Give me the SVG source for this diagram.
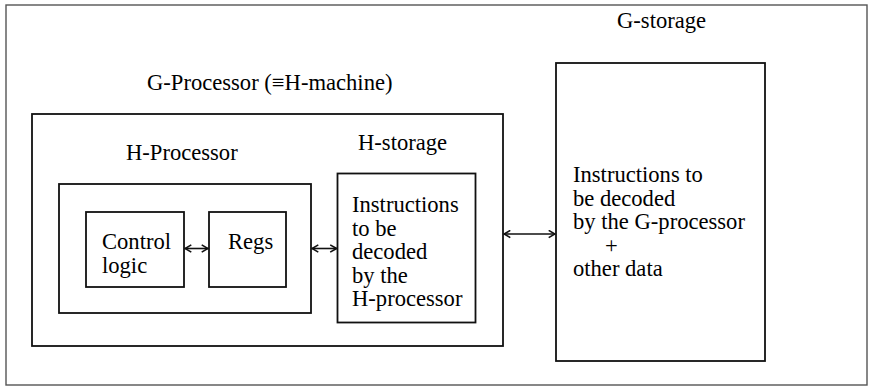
<svg xmlns="http://www.w3.org/2000/svg" width="869" height="387" viewBox="0 0 869 387">
<style>
  .box { fill: none; stroke: #111; stroke-width: 1.8; }
  .frame { fill: none; stroke: #555; stroke-width: 1.4; }
  .conn { fill: none; stroke: #111; stroke-width: 1.6; }
  .t { font-family: 'Liberation Serif', 'Times New Roman', 'DejaVu Serif', serif; font-size: 22.6px; fill: #000; }
</style>
<defs>
  <marker id="ah" viewBox="0 0 10 10" refX="9" refY="5" markerWidth="9" markerHeight="9" orient="auto-start-reverse" markerUnits="userSpaceOnUse">
    <path d="M2,1 L9,5 L2,9" fill="none" stroke="#111" stroke-width="1.8"/>
  </marker>
</defs>
<rect width="869" height="387" fill="#fff"/>
<rect class="frame" x="6" y="5" width="861" height="380"/>

<g id="g-storage" class="t">
  <text x="617" y="28">G-storage</text>
  <rect class="box" x="556" y="63" width="209" height="298"/>
  <text x="573" y="182">Instructions to</text>
  <text x="573" y="205.5">be decoded</text>
  <text x="573" y="229">by the G-processor</text>
  <text x="605" y="252.5">+</text>
  <text x="573" y="276">other data</text>
</g>

<g id="g-processor" class="t">
  <text x="147" y="90">G-Processor (≡H-machine)</text>
  <rect class="box" x="32" y="114" width="471" height="232"/>
</g>

<g id="h-processor" class="t">
  <text x="126" y="160">H-Processor</text>
  <rect class="box" x="59" y="184" width="252" height="129"/>
</g>

<g id="control-logic" class="t">
  <rect class="box" x="86" y="212" width="98" height="75"/>
  <text x="102" y="249">Control</text>
  <text x="102" y="272.5">logic</text>
</g>

<g id="regs" class="t">
  <rect class="box" x="209" y="212" width="77" height="75"/>
  <text x="228" y="249">Regs</text>
</g>

<g id="h-storage" class="t">
  <text x="358" y="150">H-storage</text>
  <rect class="box" x="337.5" y="173.5" width="138" height="149"/>
  <text x="352" y="212">Instructions</text>
  <text x="352" y="235.5">to be</text>
  <text x="352" y="259">decoded</text>
  <text x="352" y="282.5">by the</text>
  <text x="352" y="306">H-processor</text>
</g>

<g id="connectors">
  <line class="conn" x1="185" y1="248.5" x2="208" y2="248.5" marker-start="url(#ah)" marker-end="url(#ah)"/>
  <line class="conn" x1="312" y1="248.5" x2="336.5" y2="248.5" marker-start="url(#ah)" marker-end="url(#ah)"/>
  <line class="conn" x1="504" y1="234" x2="555" y2="234" marker-start="url(#ah)" marker-end="url(#ah)"/>
</g>
</svg>
